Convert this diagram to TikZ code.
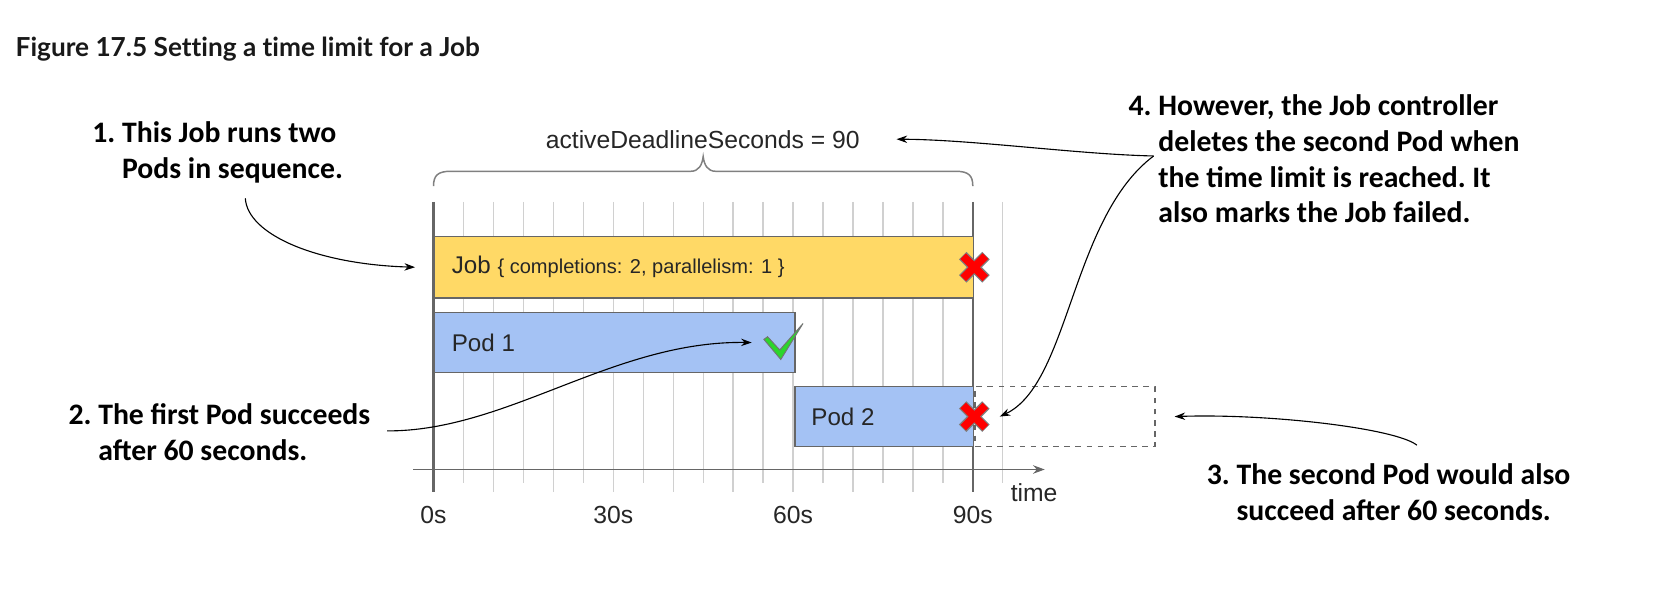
\documentclass[tikz,border=0pt]{standalone}
\usepackage{fontspec}
\setmainfont{Liberation Sans}
\newfontfamily\notefont{Carlito}
\newfontfamily\titlefont{Lato}[Ligatures=NoCommon]
\usepackage{tikz}
\usetikzlibrary{arrows.meta,positioning}
\definecolor{jobyellow}{HTML}{FFD966}
\definecolor{podblue}{HTML}{A4C2F4}
\definecolor{edgegray}{HTML}{666666}
\definecolor{gridgray}{HTML}{D0D0D0}
\definecolor{bracegray}{HTML}{808080}
\definecolor{checkgreen}{HTML}{2BD62B}
\tikzset{
  bar/.style={draw=edgegray, line width=0.8pt, inner sep=0pt, anchor=north west},
  jobbar/.style={bar, fill=jobyellow, minimum height=11.6mm},
  podbar/.style={bar, fill=podblue, minimum height=11.3mm},
  ghost/.style={draw=edgegray, dashed, line width=0.8pt, inner sep=0pt, anchor=west,
                minimum height=11.3mm},
  barlbl/.style={font=\fontsize{13}{15}\selectfont, text=black!85, inner sep=0pt, anchor=west},
  ticklbl/.style={font=\fontsize{13.3}{15}\selectfont, text=black!85, inner sep=0pt},
  note/.style={font=\notefont\bfseries\fontsize{16}{19.3}\selectfont\frenchspacing, align=left,
               inner sep=0pt, anchor=north west},
  title/.style={font=\titlefont\bfseries\fontsize{14.1}{16}\selectfont, text=black!90,
                inner sep=0pt, anchor=base west},
  callout/.style={-{Stealth[length=2mm,width=1.4mm]}, line width=0.6pt},
  gridthin/.style={draw=gridgray, line width=0.7pt},
  gridthick/.style={draw=edgegray, line width=1.4pt},
  axisline/.style={draw=edgegray, line width=0.8pt, -{Stealth[length=2.2mm,width=1.6mm]}},
  bracket/.style={draw=bracegray, line width=0.8pt},
  crossmark/.pic={
    \draw[black!50, line width=2mm] (-11,-11) -- (11,11) (-11,11) -- (11,-11);
    \draw[red, line width=1.5mm] (-10.5,-10.5) -- (10.5,10.5) (-10.5,10.5) -- (10.5,-10.5);
  },
  tickmark/.pic={
    \draw[black!55, line width=0.5pt, fill=checkgreen]
      (-30,-3) -- (-26.5,-5.5) -- (-15,7) -- (7,-18) -- (-14,16) -- cycle;
  },
}

\begin{document}
\begin{tikzpicture}[x=0.2mm, y=-0.2mm]
  \useasboundingbox[fill=white] (0,0) rectangle (1568,563);
  \node[title] (fig) at (14.5,53) {Figure 17.5 Setting a time limit for a Job};

  % time grid
  \foreach \s in {5,15,...,95}
    \draw[gridthin] ({410+\s*5.6667},191) -- ({410+\s*5.6667},457);
  \foreach \s in {10,20,...,80}
    \draw[gridthin] ({410+\s*5.6667},191) -- ({410+\s*5.6667},465);
  \foreach \s in {0,90}
    \draw[gridthick] ({410+\s*5.6667},191) -- ({410+\s*5.6667},465);
  \draw[axisline] (391,444) -- (988,444);
  \foreach \s in {0,30,60,90}
    \node[ticklbl, anchor=base] (tick\s) at ({410+\s*5.6667},495) {\s s};
  \node[ticklbl, anchor=base] (timelbl) at (978,474) {time};

  % deadline
  \draw[bracket] (410,176) .. controls (410,166) and (414,162) .. (426,162) -- (653,162)
    .. controls (661,162) and (664,156) .. (665,148)
    .. controls (666,156) and (669,162) .. (677,162) -- (904,162)
    .. controls (916,162) and (920,166) .. (920,176);
  \node[ticklbl, anchor=base] (ads) at (664.6,140) {activeDeadlineSeconds = 90};

  % job and pods
  \node[jobbar, minimum width=102mm] (job) at (410,223) {};
  \node[podbar, minimum width=68.2mm] (pod1) at (410,295) {};
  \node[podbar, minimum width=33.8mm] (pod2) at (751,365) {};
  \node[ghost, minimum width=34mm] (ghost) at (pod2.east) {};
  \node[barlbl, right=3.4mm of job.west] (jobtxt)
    {Job {\fontsize{10.8}{13}\selectfont\{ completions: 2, parallelism: 1 \}}};
  \node[barlbl, right=3.4mm of pod1.west] (pod1txt) {Pod 1};
  \node[barlbl, right=3.2mm of pod2.west] (pod2txt) {Pod 2};
  \pic at (job.east) {crossmark};
  \pic at (pod2.east) {crossmark};
  \pic at (pod1.east) {tickmark};

  % notes
  \node[note] (n1) at (87,115) {1. This Job runs two\\\hphantom{1. }Pods in sequence.};
  \node[note] (n2) at (64.5,381) {2. The first Pod succeeds\\\hphantom{2. }after 60 seconds.};
  \node[note] (n3) at (1141,438) {3. The second Pod would also\\\hphantom{3. }succeed after 60 seconds.};
  \node[note] (n4) at (1067,89) {4. However, the Job controller\\\hphantom{4. }deletes the second Pod when\\\hphantom{4. }the time limit is reached. It\\\hphantom{4. }also marks the Job failed.};

  \coordinate (c1) at (232,187.5);
  \coordinate (c2) at (366,407.5);
  \coordinate (c3) at (1340,421);
  \coordinate (c4) at (1091,147.5);
  \draw[callout] (c1) .. controls (234,222) and (300,250) .. ([xshift=-3.5mm]job.west);
  \draw[callout] (c2) .. controls (480,408) and (580,322) .. ([xshift=-8.3mm]pod1.east);
  \draw[callout] (c3) .. controls (1320,405) and (1200,391) .. ([xshift=3.6mm]ghost.east);
  \draw[callout] (c4) .. controls (1020,146) and (920,132) .. ([xshift=6.9mm]ads.east);
  \draw[callout] (c4) .. controls (1013,206) and (1011.5,363) .. ([xshift=4.8mm]pod2.east);
\end{tikzpicture}
\end{document}
